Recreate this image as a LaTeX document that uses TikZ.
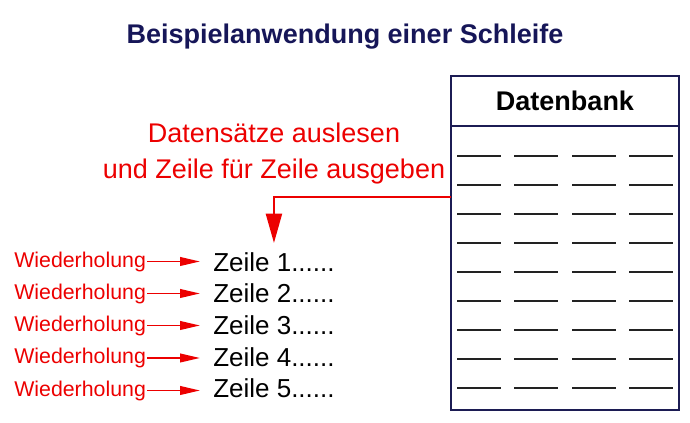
\documentclass[tikz,border=0pt]{standalone}
\usepackage{fontspec}
\setmainfont{Liberation Sans}
\usepackage{tikz}
\usepackage{xcolor}
\usetikzlibrary{arrows.meta}

\definecolor{titleblue}{RGB}{22,22,88}
\definecolor{boxblue}{RGB}{28,28,84}
\definecolor{readred}{RGB}{236,0,0}
\definecolor{dashgray}{RGB}{34,34,34}

\tikzset{
  titletext/.style={anchor=base,inner sep=0.75pt,text=titleblue,font=\bfseries\fontsize{20.25}{24}\selectfont},
  dbtext/.style={anchor=base,inner sep=0.75pt,font=\bfseries\fontsize{20.25}{24}\selectfont},
  readtext/.style={anchor=base,inner sep=0.75pt,text=readred,align=center,font=\fontsize{20.25}{27}\selectfont},
  zeiletext/.style={anchor=base west,inner sep=0.75pt,font=\fontsize{19.5}{24}\selectfont},
  wdhtext/.style={anchor=base west,inner sep=0.75pt,text=readred,font=\fontsize{16}{20}\selectfont},
  dbline/.style={draw=boxblue,line width=1.1pt},
  dbdash/.style={draw=dashgray,line width=1.5pt},
  readarrow/.style={draw=readred,line width=1.6pt,-{Triangle[length=22pt,width=12pt]}},
  wdharrow/.style={draw=readred,line width=1.4pt,-{Triangle[length=15pt,width=6.5pt]},shorten >=9pt}
}

\begin{document}
\begin{tikzpicture}[x=0.75pt,y=0.75pt,yscale=-1,xscale=1]
    \useasboundingbox (0,0) rectangle (690,422);

    % Title
    \draw (345,43) node [titletext] (title) {Beispielanwendung einer Schleife};

    % Database table
    \draw [dbline] (451,76) coordinate (dbtl) rectangle (679,410) coordinate (dbbr);
    \draw [dbline] (451,126) -- (679,126);
    \draw (565,110) node [dbtext] (dbname) {Datenbank};
    % record lines
    \foreach \r in {0,...,8}
      \foreach \c in {457,514,572,629}
        \draw [dbdash] (\c,{156+29*\r}) -- (\c+44,{156+29*\r});

    % Read note (base = baseline of the last line)
    \draw (274,178) node [readtext] (readnote) {Datensätze auslesen\\und Zeile für Zeile ausgeben};

    % Output rows
    \draw (212,271) node [zeiletext] (z1) {Zeile 1......};
    \draw (212,302.7) node [zeiletext] (z2) {Zeile 2......};
    \draw (212,334.4) node [zeiletext] (z3) {Zeile 3......};
    \draw (212,366.1) node [zeiletext] (z4) {Zeile 4......};
    \draw (212,397.8) node [zeiletext] (z5) {Zeile 5......};

    % Repetition labels
    \draw (13,267) node [wdhtext] (w1) {Wiederholung};
    \draw (13,299) node [wdhtext] (w2) {Wiederholung};
    \draw (13,331) node [wdhtext] (w3) {Wiederholung};
    \draw (13,363.5) node [wdhtext] (w4) {Wiederholung};
    \draw (13,396) node [wdhtext] (w5) {Wiederholung};

    % Repetition arrows
    \draw [wdharrow] (w1.east) -- (w1.east -| z1.west);
    \draw [wdharrow] (w2.east) -- (w2.east -| z2.west);
    \draw [wdharrow] (w3.east) -- (w3.east -| z3.west);
    \draw [wdharrow] (w4.east) -- (w4.east -| z4.west);
    \draw [wdharrow] (w5.east) -- (w5.east -| z5.west);

    % Read arrow from the table to the first row
    \coordinate (dbout) at (451,197);
    \coordinate (z1in) at (z1.north |- 0,243);
    \draw [readarrow] (dbout) -- (dbout -| z1in) -- (z1in);

\end{tikzpicture}
\end{document}
